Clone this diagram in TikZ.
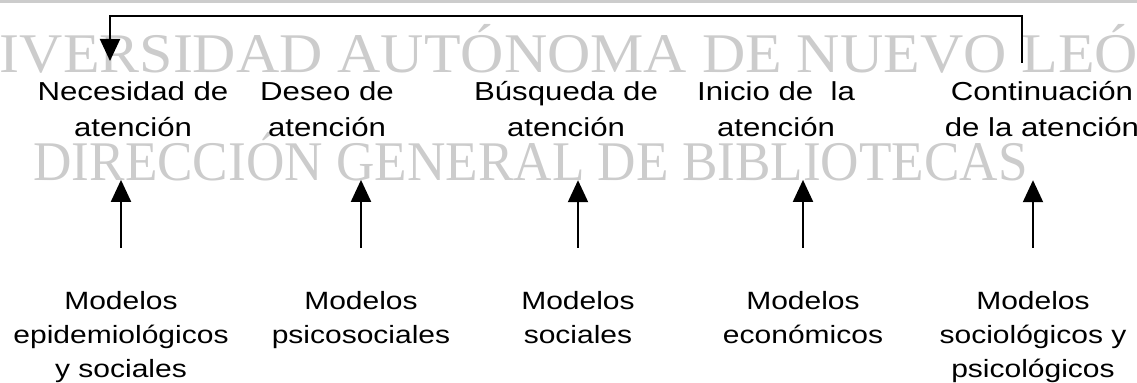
\documentclass[tikz,border=0pt]{standalone}
\usepackage{fontspec}
\setmainfont{Liberation Sans}[FakeStretch=1.2]
\newfontfamily\wmwide{Liberation Serif}[FakeStretch=1.07]
\newfontfamily\wmnarrow{Liberation Serif}[FakeStretch=0.95]
\usetikzlibrary{arrows.meta}

\begin{document}
\begin{tikzpicture}[x=0.5pt,y=-0.5pt,
   stage/.style={align=center,inner sep=0pt,anchor=north,font=\fontsize{13}{18}\selectfont},
   model/.style={align=center,inner sep=0pt,anchor=north,font=\fontsize{12.5}{17}\selectfont},
   up/.style={line width=1pt,-{Triangle[width=10pt,length=11pt]},shorten <=21.5pt,shorten >=21.5pt},
   back/.style={line width=1pt,-{Triangle[width=10pt,length=11pt]},shorten <=9pt,shorten >=10pt},
   wmark/.style={text=black!20,inner sep=0pt,anchor=base west}]
   \useasboundingbox (0,0) rectangle (1137,383);
   \clip (0,0) rectangle (1137,383);
   \fill[black!20] (0,0) rectangle (1137,3);
   % watermark
   \node[wmark,font=\wmwide\fontsize{28}{28}\selectfont] (wm1) at (-87,73) {UNIVERSIDAD AUTÓNOMA DE NUEVO LEÓN};
   \node[wmark,font=\wmnarrow\fontsize{28}{28}\selectfont] (wm2) at (33,181) {DIRECCIÓN GENERAL DE BIBLIOTECAS};
   % stages
   \node[stage] (n1) at (133,81) {Necesidad de\\atención};
   \node[stage] (n2) at (327,81) {Deseo de\\atención};
   \node[stage] (n3) at (566,81) {Búsqueda de\\atención};
   \node[stage] (n4) at (776,81) {Inicio de\ \ la\\atención};
   \node[stage] (n5) at (1042,81) {Continuación\\de la atención};
   % models
   \node[model] (m1) at (121,291) {Modelos\\epidemiológicos\\y sociales};
   \node[model] (m2) at (361,291) {Modelos\\psicosociales};
   \node[model] (m3) at (578,291) {Modelos\\sociales};
   \node[model] (m4) at (803,291) {Modelos\\económicos};
   \node[model] (m5) at (1033,291) {Modelos\\sociológicos y\\psicológicos};
   \foreach \i in {1,...,5}
      \draw[up] (m\i.north) -- (m\i.north |- n\i.south);
   \coordinate (bend) at (560,16);
   \draw[back] ([xshift=-10pt]n5.north) |- (bend) -| ([xshift=-11.5pt]n1.north);
\end{tikzpicture}
\end{document}
